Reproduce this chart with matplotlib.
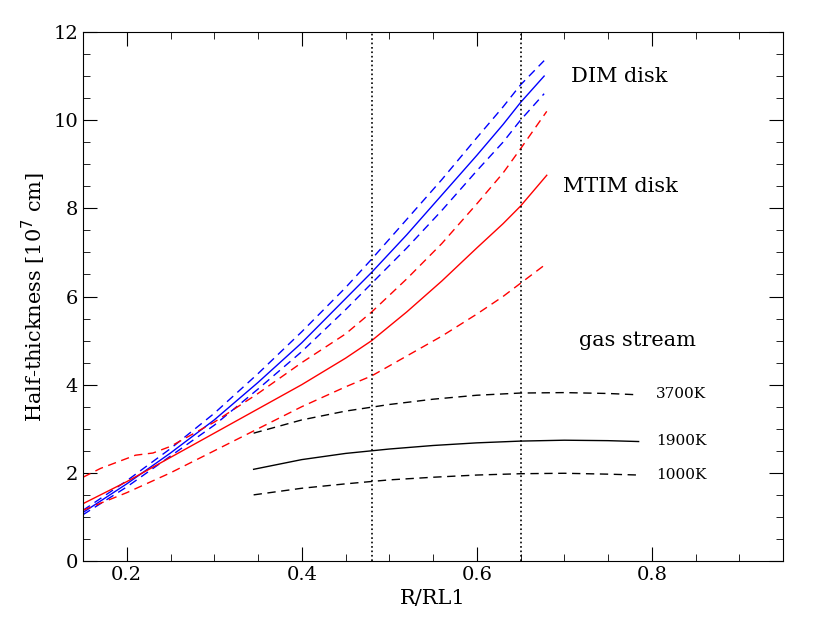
import matplotlib
matplotlib.use("Agg")
import matplotlib.pyplot as plt
from matplotlib.ticker import MultipleLocator
plt.rcParams['font.family'] = 'DejaVu Serif'

dim_x = [0.15, 0.2, 0.25, 0.3, 0.35, 0.4, 0.45, 0.48, 0.52, 0.56, 0.6, 0.63, 0.65, 0.677]
dim_mid = [1.1, 1.75, 2.45, 3.2, 4.05, 4.95, 5.95, 6.55, 7.4, 8.3, 9.2, 9.9, 10.4, 11.0]
dim_up = [1.15, 1.82, 2.55, 3.35, 4.25, 5.2, 6.2, 6.85, 7.75, 8.65, 9.6, 10.3, 10.8, 11.35]
dim_lo = [1.05, 1.68, 2.38, 3.08, 3.9, 4.75, 5.7, 6.3, 7.1, 7.95, 8.85, 9.5, 10.0, 10.6]
mt_x = [0.15, 0.2, 0.25, 0.3, 0.35, 0.4, 0.45, 0.48, 0.52, 0.56, 0.6, 0.63, 0.65, 0.68]
mt_mid = [1.3, 1.8, 2.35, 2.9, 3.45, 4.0, 4.6, 5.0, 5.65, 6.35, 7.1, 7.65, 8.05, 8.75]
mt_lo = [1.15, 1.55, 2.0, 2.5, 3.0, 3.5, 3.95, 4.2, 4.65, 5.1, 5.6, 6.0, 6.3, 6.75]
mtu_x = [0.15, 0.17, 0.19, 0.21, 0.23, 0.25, 0.3, 0.35, 0.4, 0.45, 0.48, 0.52, 0.56, 0.6, 0.63, 0.65, 0.68]
mt_up = [1.9, 2.1, 2.25, 2.4, 2.45, 2.6, 3.15, 3.8, 4.5, 5.15, 5.65, 6.4, 7.2, 8.1, 8.8, 9.35, 10.2]
gs_x = [0.345, 0.4, 0.45, 0.5, 0.55, 0.6, 0.65, 0.7, 0.75, 0.785]
gs_3700 = [2.9, 3.2, 3.4, 3.55, 3.67, 3.76, 3.81, 3.82, 3.8, 3.77]
gs_1900 = [2.08, 2.3, 2.44, 2.54, 2.62, 2.68, 2.72, 2.74, 2.73, 2.71]
gs_1000 = [1.5, 1.65, 1.75, 1.84, 1.9, 1.95, 1.98, 1.99, 1.97, 1.95]
vlines = [0.48, 0.65]

fig = plt.figure(figsize=(8.25, 6.23), dpi=100)
ax = fig.add_axes([83/825, 1-561/623, 700/825, 529/623])
ds = (0, (6, 4))
ax.plot(dim_x, dim_mid, color='blue', lw=1)
ax.plot(dim_x, dim_up, color='blue', lw=1, ls=ds)
ax.plot(dim_x, dim_lo, color='blue', lw=1, ls=ds)
ax.plot(mt_x, mt_mid, color='red', lw=1)
ax.plot(mt_x, mt_lo, color='red', lw=1, ls=ds)
ax.plot(mtu_x, mt_up, color='red', lw=1, ls=ds)
ax.plot(gs_x, gs_3700, color='black', lw=1, ls=ds)
ax.plot(gs_x, gs_1900, color='black', lw=1)
ax.plot(gs_x, gs_1000, color='black', lw=1, ls=ds)
for v in vlines:
    ax.axvline(v, color='black', lw=1.2, ls=':')
ax.text(0.708, 11.0, 'DIM disk', fontsize=15, va='center')
ax.text(0.699, 8.5, 'MTIM disk', fontsize=15, va='center')
ax.text(0.717, 5.0, 'gas stream', fontsize=15, va='center')
ax.text(0.805, 3.78, '3700K', fontsize=11, va='center')
ax.text(0.805, 2.72, '1900K', fontsize=11, va='center')
ax.text(0.805, 1.95, '1000K', fontsize=11, va='center')
ax.set_xlim(0.15, 0.95)
ax.set_ylim(0, 12)
ax.xaxis.set_major_locator(MultipleLocator(0.2))
ax.xaxis.set_minor_locator(MultipleLocator(0.05))
ax.yaxis.set_major_locator(MultipleLocator(2))
ax.yaxis.set_minor_locator(MultipleLocator(0.5))
ax.tick_params(which='both', direction='in', top=True, right=True, labelsize=14)
ax.tick_params(which='major', length=10)
ax.tick_params(which='minor', length=5)
ax.set_xlabel('R/RL1', fontsize=15)
ax.set_ylabel(r'Half-thickness [10$^7$ cm]', fontsize=15)
fig.savefig('out.png')
